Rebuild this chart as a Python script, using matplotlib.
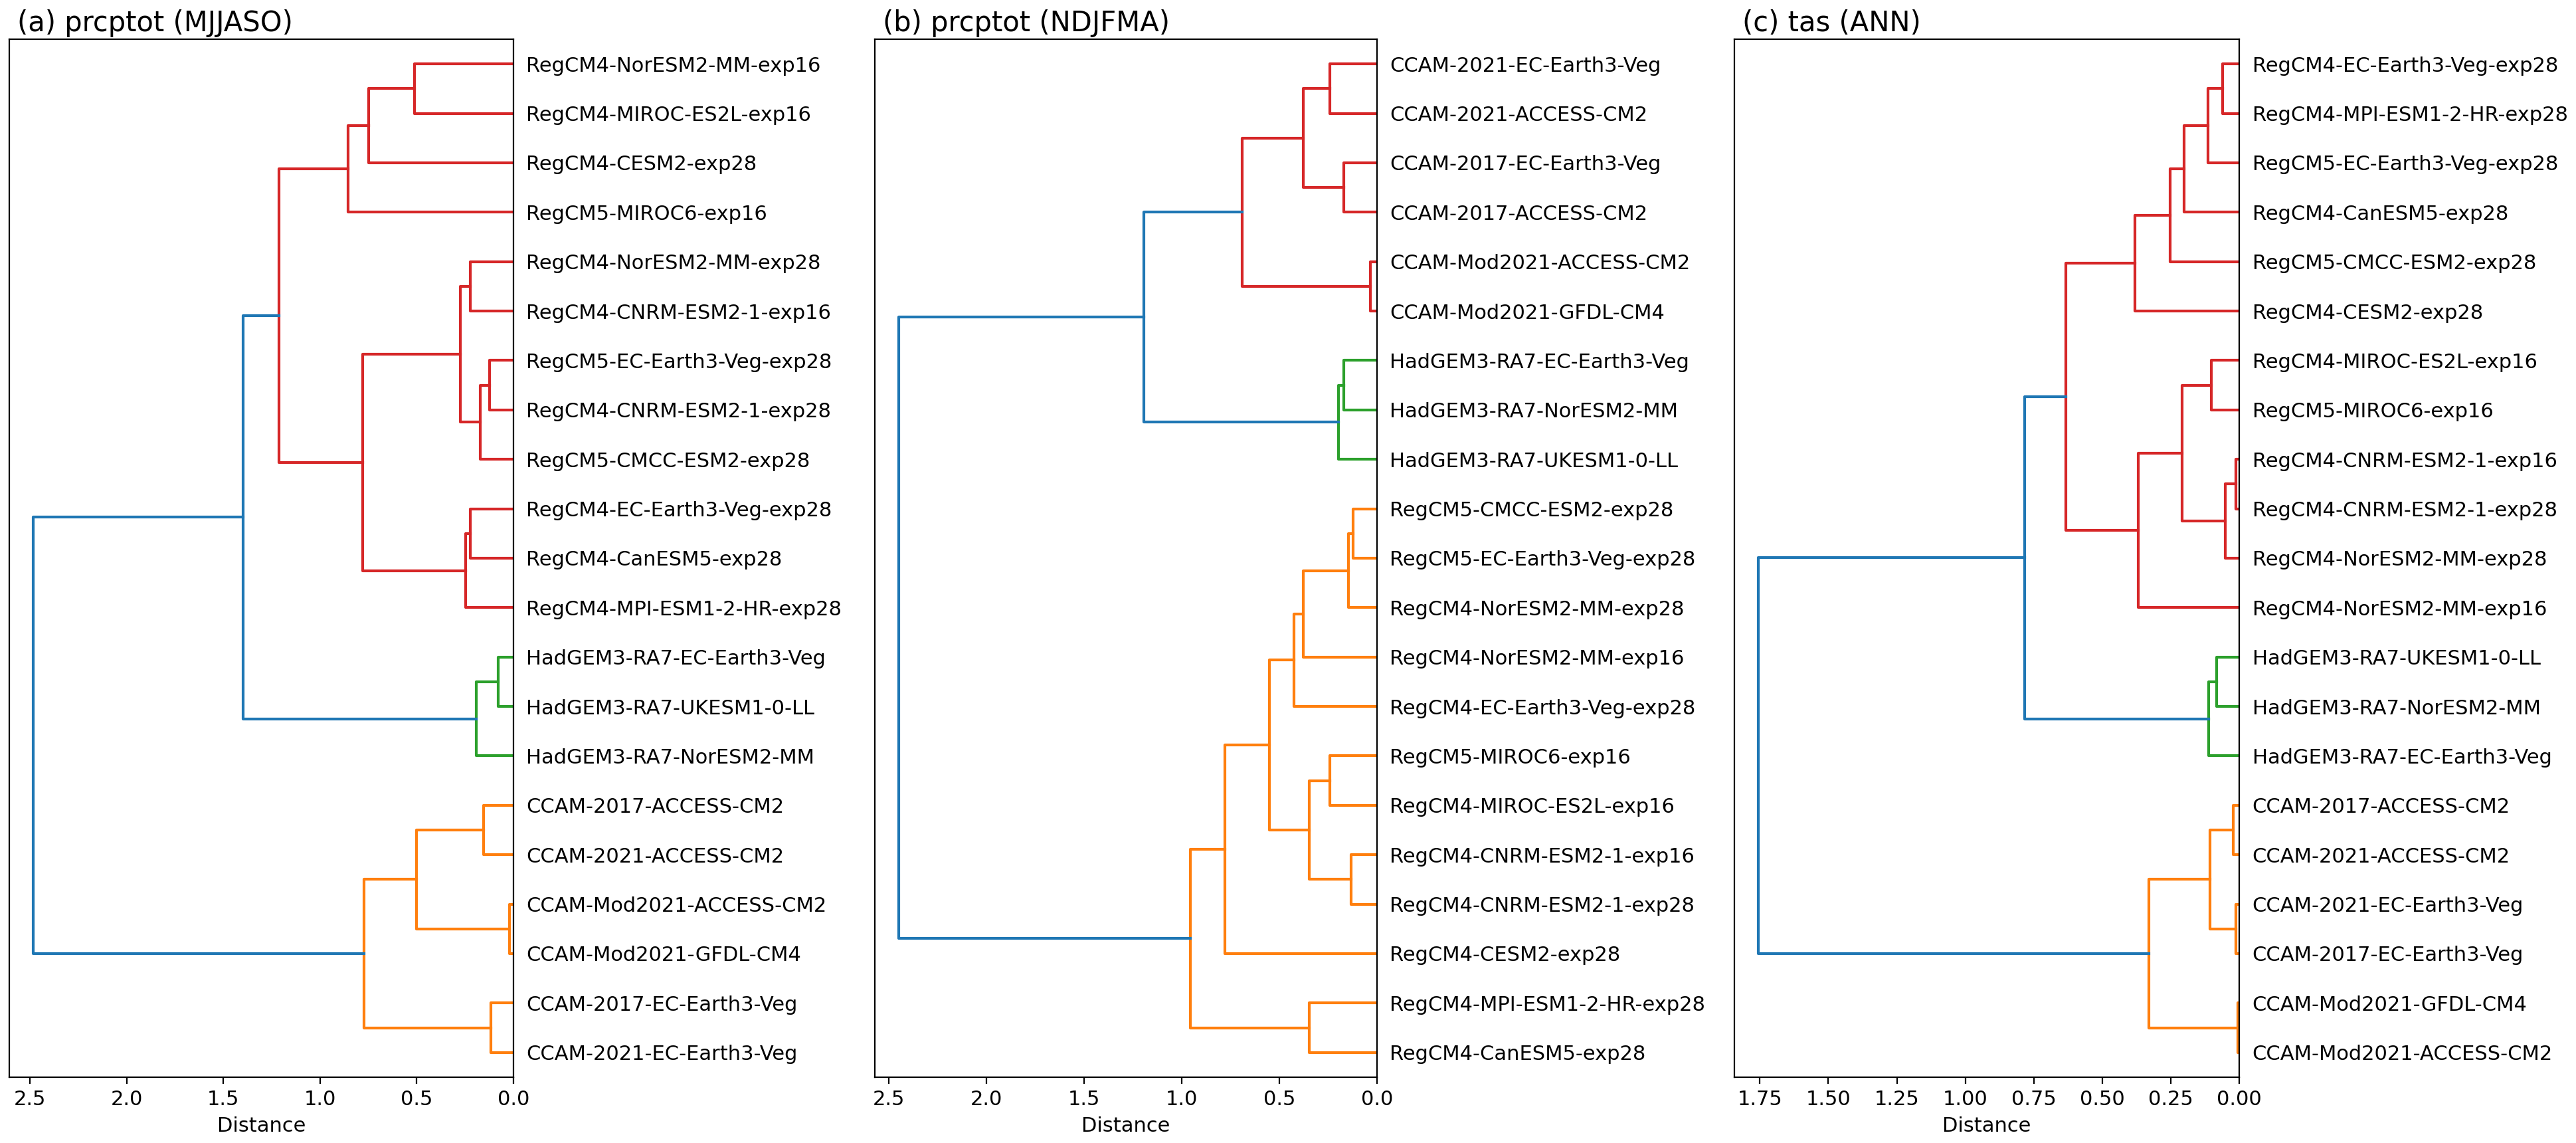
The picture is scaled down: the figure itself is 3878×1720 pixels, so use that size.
import matplotlib.pyplot as plt

plt.rcParams['font.size'] = 11

# leaf labels, top to bottom, and merges (child, child, distance);
# index >= n points to the merge made at row index - n
labels_a = ['RegCM4-NorESM2-MM-exp16', 'RegCM4-MIROC-ES2L-exp16', 'RegCM4-CESM2-exp28',
            'RegCM5-MIROC6-exp16', 'RegCM4-NorESM2-MM-exp28', 'RegCM4-CNRM-ESM2-1-exp16',
            'RegCM5-EC-Earth3-Veg-exp28', 'RegCM4-CNRM-ESM2-1-exp28', 'RegCM5-CMCC-ESM2-exp28',
            'RegCM4-EC-Earth3-Veg-exp28', 'RegCM4-CanESM5-exp28', 'RegCM4-MPI-ESM1-2-HR-exp28',
            'HadGEM3-RA7-EC-Earth3-Veg', 'HadGEM3-RA7-UKESM1-0-LL', 'HadGEM3-RA7-NorESM2-MM',
            'CCAM-2017-ACCESS-CM2', 'CCAM-2021-ACCESS-CM2', 'CCAM-Mod2021-ACCESS-CM2',
            'CCAM-Mod2021-GFDL-CM4', 'CCAM-2017-EC-Earth3-Veg', 'CCAM-2021-EC-Earth3-Veg']
merges_a = [(0, 1, 0.513), (21, 2, 0.750), (22, 3, 0.855), (4, 5, 0.222), (6, 7, 0.123),
            (25, 8, 0.171), (24, 26, 0.274), (9, 10, 0.222), (28, 11, 0.248), (27, 29, 0.781),
            (23, 30, 1.212), (12, 13, 0.077), (32, 14, 0.191), (31, 33, 1.397), (15, 16, 0.154),
            (17, 18, 0.020), (35, 36, 0.502), (19, 20, 0.117), (37, 38, 0.773), (34, 39, 2.483)]

labels_b = ['CCAM-2021-EC-Earth3-Veg', 'CCAM-2021-ACCESS-CM2', 'CCAM-2017-EC-Earth3-Veg',
            'CCAM-2017-ACCESS-CM2', 'CCAM-Mod2021-ACCESS-CM2', 'CCAM-Mod2021-GFDL-CM4',
            'HadGEM3-RA7-EC-Earth3-Veg', 'HadGEM3-RA7-NorESM2-MM', 'HadGEM3-RA7-UKESM1-0-LL',
            'RegCM5-CMCC-ESM2-exp28', 'RegCM5-EC-Earth3-Veg-exp28', 'RegCM4-NorESM2-MM-exp28',
            'RegCM4-NorESM2-MM-exp16', 'RegCM4-EC-Earth3-Veg-exp28', 'RegCM5-MIROC6-exp16',
            'RegCM4-MIROC-ES2L-exp16', 'RegCM4-CNRM-ESM2-1-exp16', 'RegCM4-CNRM-ESM2-1-exp28',
            'RegCM4-CESM2-exp28', 'RegCM4-MPI-ESM1-2-HR-exp28', 'RegCM4-CanESM5-exp28']
merges_b = [(0, 1, 0.242), (2, 3, 0.169), (21, 22, 0.378), (4, 5, 0.034), (23, 24, 0.691),
            (6, 7, 0.169), (26, 8, 0.197), (25, 27, 1.192), (9, 10, 0.121), (29, 11, 0.147),
            (30, 12, 0.378), (31, 13, 0.423), (14, 15, 0.242), (16, 17, 0.132), (33, 34, 0.347),
            (32, 35, 0.552), (36, 18, 0.778), (19, 20, 0.347), (37, 38, 0.955), (28, 39, 2.449)]

labels_c = ['RegCM4-EC-Earth3-Veg-exp28', 'RegCM4-MPI-ESM1-2-HR-exp28', 'RegCM5-EC-Earth3-Veg-exp28',
            'RegCM4-CanESM5-exp28', 'RegCM5-CMCC-ESM2-exp28', 'RegCM4-CESM2-exp28',
            'RegCM4-MIROC-ES2L-exp16', 'RegCM5-MIROC6-exp16', 'RegCM4-CNRM-ESM2-1-exp16',
            'RegCM4-CNRM-ESM2-1-exp28', 'RegCM4-NorESM2-MM-exp28', 'RegCM4-NorESM2-MM-exp16',
            'HadGEM3-RA7-UKESM1-0-LL', 'HadGEM3-RA7-NorESM2-MM', 'HadGEM3-RA7-EC-Earth3-Veg',
            'CCAM-2017-ACCESS-CM2', 'CCAM-2021-ACCESS-CM2', 'CCAM-2021-EC-Earth3-Veg',
            'CCAM-2017-EC-Earth3-Veg', 'CCAM-Mod2021-GFDL-CM4', 'CCAM-Mod2021-ACCESS-CM2']
merges_c = [(0, 1, 0.061), (21, 2, 0.115), (22, 3, 0.202), (23, 4, 0.253), (24, 5, 0.382),
            (6, 7, 0.103), (8, 9, 0.012), (27, 10, 0.051), (26, 28, 0.210), (29, 11, 0.368),
            (25, 30, 0.633), (12, 13, 0.083), (32, 14, 0.113), (31, 33, 0.784), (15, 16, 0.022),
            (17, 18, 0.012), (35, 36, 0.107), (19, 20, 0.006), (37, 38, 0.329), (34, 39, 1.755)]

titles = ['(a) prcptot (MJJASO)', '(b) prcptot (NDJFMA)', '(c) tas (ANN)']
thresholds = [1.3, 1.0, 0.7]


def plot_dendrogram(ax, labels, merges, threshold, title):
    """ Draw a left-oriented dendrogram from a merge list """
    n = len(labels)
    y = {i: 10 * (n - 1 - i) + 5 for i in range(n)}
    h = {i: 0.0 for i in range(n)}
    for k, (a, b, d) in enumerate(merges):
        y[n + k] = (y[a] + y[b]) / 2
        h[n + k] = d

    # clusters below the threshold get colours bottom-up
    clusters = []
    for a, b, d in merges:
        if d >= threshold:
            for c in (a, b):
                if c >= n and h[c] < threshold:
                    clusters.append(c)
    clusters.sort(key=lambda c: y[c])
    colour = {}
    for i, c in enumerate(clusters):
        stack = [c]
        while stack:
            node = stack.pop()
            if node >= n:
                colour[node] = f'C{i + 1}'
                stack.extend(merges[node - n][:2])

    for k, (a, b, d) in enumerate(merges):
        ax.plot([h[a], d, d, h[b]], [y[a], y[a], y[b], y[b]],
                color=colour.get(n + k, 'C0'), lw=1.5)

    ax.set_ylim(0, 10 * n)
    ax.set_xlim(max(h.values()) * 1.05, 0)
    ax.set_yticks([y[i] for i in range(n)])
    ax.set_yticklabels(labels)
    ax.yaxis.set_ticks_position('right')
    for line in ax.get_yticklines():
        line.set_visible(False)
    ax.set_xlabel('Distance')
    ax.text(0.016, 1.008, title, transform=ax.transAxes, fontsize=15, va='baseline')


fig = plt.figure(figsize=(19.39, 8.6), dpi=200)
lefts = [0.0036, 0.3396, 0.6733]
widths = [0.1957, 0.1949, 0.1960]
data = [(labels_a, merges_a), (labels_b, merges_b), (labels_c, merges_c)]

for i, (labels, merges) in enumerate(data):
    ax = fig.add_axes([lefts[i], 0.0576, widths[i], 0.9081])
    plot_dendrogram(ax, labels, merges, thresholds[i], titles[i])

fig.savefig('out.png', dpi=200)
